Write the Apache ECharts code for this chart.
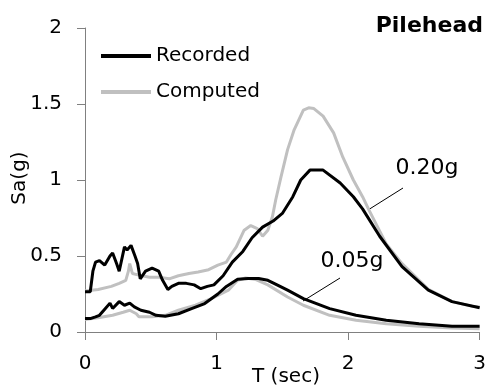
<!DOCTYPE html>
<html>
<head>
<meta charset="utf-8">
<script src="https://cdn.jsdelivr.net/npm/echarts@6/dist/echarts.min.js"></script>
<style>
  html, body { margin: 0; padding: 0; background: #fff; }
  #chart { width: 489px; height: 385px; }
</style>
</head>
<body>
<div id="chart"></div>
<script>
// recorded, 0.20g input
const recT20 = [0, 0.04, 0.06, 0.08, 0.11, 0.15, 0.19, 0.21, 0.24, 0.26, 0.30, 0.32, 0.35, 0.38, 0.40, 0.42, 0.46, 0.51, 0.56, 0.59, 0.63, 0.66, 0.71, 0.77, 0.83, 0.88, 0.93, 0.98, 1.05, 1.12, 1.20, 1.27, 1.35, 1.43, 1.50, 1.58, 1.64, 1.71, 1.81, 1.94, 2.04, 2.11, 2.24, 2.41, 2.61, 2.79, 3.00];
const recSa20 = [0.265, 0.265, 0.40, 0.46, 0.47, 0.44, 0.50, 0.52, 0.45, 0.40, 0.56, 0.54, 0.57, 0.50, 0.45, 0.35, 0.40, 0.42, 0.40, 0.34, 0.28, 0.30, 0.32, 0.32, 0.31, 0.285, 0.30, 0.31, 0.37, 0.46, 0.53, 0.62, 0.69, 0.73, 0.78, 0.89, 1.00, 1.065, 1.065, 0.98, 0.89, 0.81, 0.63, 0.43, 0.275, 0.20, 0.16];

// computed, 0.20g input
const cmpT20 = [0, 0.10, 0.20, 0.26, 0.31, 0.33, 0.34, 0.36, 0.41, 0.49, 0.56, 0.64, 0.71, 0.79, 0.86, 0.94, 1.01, 1.075, 1.11, 1.15, 1.21, 1.26, 1.31, 1.35, 1.39, 1.425, 1.45, 1.49, 1.54, 1.59, 1.66, 1.70, 1.74, 1.81, 1.89, 1.96, 2.04, 2.11, 2.16, 2.29, 2.41, 2.61, 2.79, 2.94, 3.00];
const cmpSa20 = [0.27, 0.28, 0.30, 0.32, 0.34, 0.40, 0.45, 0.385, 0.374, 0.36, 0.36, 0.35, 0.37, 0.385, 0.395, 0.41, 0.44, 0.46, 0.51, 0.56, 0.67, 0.70, 0.68, 0.63, 0.67, 0.76, 0.87, 1.02, 1.20, 1.33, 1.46, 1.475, 1.47, 1.42, 1.31, 1.15, 1.00, 0.89, 0.80, 0.58, 0.45, 0.28, 0.20, 0.17, 0.165];

// recorded, 0.05g input
const recT05 = [0, 0.04, 0.08, 0.11, 0.15, 0.19, 0.21, 0.26, 0.30, 0.34, 0.375, 0.425, 0.49, 0.54, 0.61, 0.71, 0.81, 0.91, 1.01, 1.075, 1.16, 1.24, 1.32, 1.39, 1.46, 1.54, 1.66, 1.86, 2.06, 2.29, 2.54, 2.79, 3.00];
const recSa05 = [0.088, 0.088, 0.10, 0.11, 0.15, 0.19, 0.155, 0.20, 0.176, 0.19, 0.165, 0.143, 0.13, 0.11, 0.103, 0.12, 0.154, 0.187, 0.25, 0.30, 0.347, 0.352, 0.352, 0.34, 0.31, 0.275, 0.22, 0.154, 0.11, 0.077, 0.055, 0.038, 0.038];

// computed, 0.05g input
const cmpT05 = [0, 0.11, 0.21, 0.29, 0.34, 0.39, 0.41, 0.51, 0.61, 0.71, 0.84, 0.96, 1.09, 1.16, 1.22, 1.30, 1.39, 1.54, 1.66, 1.86, 2.06, 2.29, 2.54, 2.79, 3.00];
const cmpSa05 = [0.082, 0.095, 0.11, 0.13, 0.143, 0.12, 0.10, 0.10, 0.11, 0.143, 0.176, 0.22, 0.275, 0.34, 0.355, 0.345, 0.31, 0.23, 0.176, 0.11, 0.077, 0.055, 0.038, 0.026, 0.022];

const xTicks = [0, 1, 2, 3];
const yTicks = [0, 0.5, 1, 1.5, 2];

const font = 'DejaVu Sans';
const pairs = (t, s) => t.map((v, i) => [v, s[i]]);

const chart = echarts.init(document.getElementById('chart'));

const line = (name, t, s, color) => ({
  name: name,
  type: 'line',
  data: pairs(t, s),
  showSymbol: false,
  symbol: 'none',
  lineStyle: { color: color, width: 3 },
  itemStyle: { color: color },
  silent: true
});

const option = {
  animation: false,
  backgroundColor: '#fff',
  grid: { left: 85, right: 4, top: 28, bottom: 53 },
  legend: {
    data: ['Recorded', 'Computed'],
    orient: 'vertical',
    left: 101,
    top: 46,
    padding: 0,
    icon: 'rect',
    itemWidth: 50,
    itemHeight: 4,
    itemGap: 16,
    textStyle: { fontFamily: font, fontSize: 20, color: '#000' }
  },
  xAxis: {
    type: 'value',
    min: xTicks[0],
    max: xTicks[xTicks.length - 1],
    interval: 1,
    splitLine: { show: false },
    axisLine: { lineStyle: { color: '#808080', width: 1 } },
    axisTick: { inside: false, length: 8, lineStyle: { color: '#808080' } },
    axisLabel: { margin: 22, fontFamily: font, fontSize: 20, color: '#000' }
  },
  yAxis: {
    type: 'value',
    min: yTicks[0],
    max: yTicks[yTicks.length - 1],
    interval: 0.5,
    splitLine: { show: false },
    axisLine: { show: true, lineStyle: { color: '#808080', width: 1 } },
    axisTick: { show: true, inside: false, length: 8, lineStyle: { color: '#808080' } },
    axisLabel: { margin: 23, fontFamily: font, fontSize: 20, color: '#000' }
  },
  series: [
    line('Computed', cmpT20, cmpSa20, '#c0c0c0'),
    line('Computed', cmpT05, cmpSa05, '#c0c0c0'),
    line('Recorded', recT20, recSa20, '#000000'),
    line('Recorded', recT05, recSa05, '#000000')
  ],
  graphic: [
    { type: 'text', x: 483, y: 26, style: { text: 'Pilehead', font: 'bold 22px "DejaVu Sans"', fill: '#000', align: 'right', verticalAlign: 'middle' } },
    { type: 'text', x: 20, y: 178, rotation: Math.PI / 2, style: { text: 'Sa(g)', font: '20px "DejaVu Sans"', fill: '#000', align: 'center', verticalAlign: 'middle' } },
    { type: 'text', x: 286, y: 377, style: { text: 'T (sec)', font: '20px "DejaVu Sans"', fill: '#000', align: 'center', verticalAlign: 'middle' } },
    { type: 'text', x: 427, y: 168, style: { text: '0.20g', font: '22px "DejaVu Sans"', fill: '#000', align: 'center', verticalAlign: 'middle' } },
    { type: 'text', x: 352, y: 261, style: { text: '0.05g', font: '22px "DejaVu Sans"', fill: '#000', align: 'center', verticalAlign: 'middle' } },
    { type: 'line', shape: { x1: 403, y1: 188, x2: 368, y2: 210 }, style: { stroke: '#000', lineWidth: 1 } },
    { type: 'line', shape: { x1: 340, y1: 278, x2: 303, y2: 301 }, style: { stroke: '#000', lineWidth: 1 } }
  ]
};

chart.setOption(option);
</script>
</body>
</html>
